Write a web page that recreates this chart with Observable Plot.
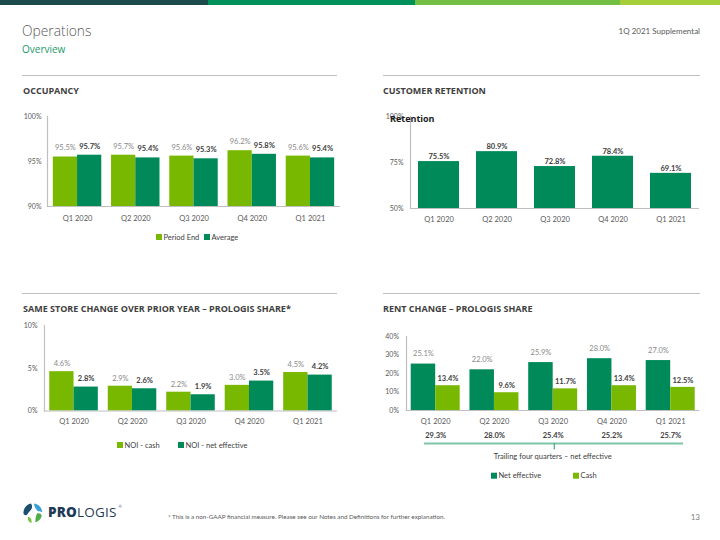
<!DOCTYPE html>
<html>
<head>
<meta charset="utf-8">
<script src="https://cdn.jsdelivr.net/npm/d3@7"></script>
<script src="https://cdn.jsdelivr.net/npm/@observablehq/plot@0.6"></script>
<style>
  body { margin: 0; background: #fff; }
  #page { position: relative; width: 720px; height: 540px; overflow: hidden; background: #fff; }
  #page > svg.chart { position: absolute; }
  #overlay { position: absolute; left: 0; top: 0; pointer-events: none; }
</style>
</head>
<body>
<div id="page"></div>
<script>
// ---- Data ----
const quarters = ["Q1 2020", "Q2 2020", "Q3 2020", "Q4 2020", "Q1 2021"];

const occupancyPeriodEnd = [95.5, 95.7, 95.6, 96.2, 95.6];
const occupancyAverage   = [95.7, 95.4, 95.3, 95.8, 95.4];

const customerRetention  = [75.5, 80.9, 72.8, 78.4, 69.1];

const noiCash            = [4.6, 2.9, 2.2, 3.0, 4.5];
const noiNetEffective    = [2.8, 2.6, 1.9, 3.5, 4.2];

const rentNetEffective   = [25.1, 22.0, 25.9, 28.0, 27.0];
const rentCash           = [13.4, 9.6, 11.7, 13.4, 12.5];
const trailingNetEffective = [29.3, 28.0, 25.4, 25.2, 25.7];

const occupancyTicks = [90, 95, 100];
const retentionTicks = [50, 75, 100];
const sameStoreTicks = [0, 5, 10];
const rentTicks      = [0, 10, 20, 30, 40];

// ---- Palette ----
const lightGreen = "#78b800";
const darkGreen  = "#008a5a";
const greyLabel  = "#8a8a8a";
const darkLabel  = "#404040";
const axisGrey   = "#bfbfbf";
const tickGrey   = "#595959";
const chartFont  = "Lato, 'Open Sans', sans-serif";

const page = document.getElementById("page");

function rows(values) {
  return quarters.map((q, i) => ({quarter: q, value: values[i]}));
}

// Width of one quarter's band for a band scale with the given paddings
function bandWidth(width, ml, mr, n, pInner, pOuter) {
  const step = (width - ml - mr) / (n - pInner + 2 * pOuter);
  return step * (1 - pInner);
}

function barChart(cfg) {
  const [mt, mr, mb, ml] = cfg.margin;
  const y0 = cfg.yDomain[0];
  const bw = bandWidth(cfg.width, ml, mr, quarters.length, cfg.paddingInner, cfg.paddingOuter);
  const k = cfg.series.length;
  const sub = bw / k;
  const marks = [
    Plot.axisY({ticks: cfg.ticks, tickSize: 0, tickPadding: cfg.tickPaddingY, tickFormat: d => d + "%", fontSize: 7}),
    Plot.axisX({tickSize: 0, tickPadding: cfg.tickPaddingX, fontSize: 7.5})
  ];
  cfg.series.forEach((s, j) => {
    const data = rows(s.values);
    marks.push(Plot.barY(data, {
      x: "quarter", y1: () => y0, y2: "value", fill: s.color,
      insetLeft: sub * j, insetRight: sub * (k - 1 - j)
    }));
    marks.push(Plot.text(data, {
      x: "quarter", y: "value", text: d => d.value.toFixed(1) + "%",
      dx: (j + 0.5) * sub - bw / 2, dy: s.dy,
      fill: s.labelColor, fontWeight: s.bold ? 700 : 400, fontSize: 7.5
    }));
  });
  marks.push(Plot.ruleY([y0], {stroke: axisGrey, strokeWidth: 1.2}));
  marks.push(Plot.frame({anchor: "left", stroke: axisGrey, strokeWidth: 1.2}));
  if (cfg.extraMarks) marks.push(...cfg.extraMarks);

  const svg = Plot.plot({
    width: cfg.width, height: cfg.height,
    marginTop: mt, marginRight: mr, marginBottom: mb, marginLeft: ml,
    x: {domain: quarters, paddingInner: cfg.paddingInner, paddingOuter: cfg.paddingOuter, round: false, label: null},
    y: {domain: cfg.yDomain, label: null},
    style: {fontFamily: chartFont, fontSize: "7.5px", color: tickGrey, background: "transparent", overflow: "visible"},
    marks
  });
  svg.classList.add("chart");
  svg.style.left = cfg.left + "px";
  svg.style.top = cfg.top + "px";
  page.appendChild(svg);
}

// Occupancy
barChart({
  left: 0, top: 100, width: 345, height: 125, margin: [16, 5, 19, 47],
  yDomain: [90, 100], ticks: occupancyTicks,
  paddingInner: 0.168, paddingOuter: 0.1, tickPaddingX: 9, tickPaddingY: 6,
  series: [
    {values: occupancyPeriodEnd, color: lightGreen, labelColor: greyLabel, bold: false, dy: -9},
    {values: occupancyAverage, color: darkGreen, labelColor: darkLabel, bold: true, dy: -9}
  ]
});

// Customer retention
barChart({
  left: 370, top: 100, width: 340, height: 125, margin: [16, 11, 17, 40],
  yDomain: [50, 100], ticks: retentionTicks,
  paddingInner: 0.293, paddingOuter: 0.138, tickPaddingX: 8.5, tickPaddingY: 7,
  series: [
    {values: customerRetention, color: darkGreen, labelColor: darkLabel, bold: true, dy: -5}
  ]
});

// Same store change over prior year
barChart({
  left: 0, top: 315, width: 345, height: 110, margin: [10, 8, 14.5, 44],
  yDomain: [0, 10], ticks: sameStoreTicks,
  paddingInner: 0.17, paddingOuter: 0.09, tickPaddingX: 8, tickPaddingY: 7,
  series: [
    {values: noiCash, color: lightGreen, labelColor: greyLabel, bold: false, dy: -8},
    {values: noiNetEffective, color: darkGreen, labelColor: darkLabel, bold: true, dy: -8}
  ]
});

// Rent change, with the trailing four quarters row under the quarter labels
barChart({
  left: 370, top: 325, width: 340, height: 130, margin: [11, 10.6, 45, 36],
  yDomain: [0, 40], ticks: rentTicks,
  paddingInner: 0.166, paddingOuter: 0.08, tickPaddingX: 8, tickPaddingY: 7.5,
  series: [
    {values: rentNetEffective, color: darkGreen, labelColor: greyLabel, bold: false, dy: -10},
    {values: rentCash, color: lightGreen, labelColor: darkLabel, bold: true, dy: -7}
  ],
  extraMarks: [
    Plot.text(rows(trailingNetEffective), {
      x: "quarter", frameAnchor: "bottom", dy: 27,
      text: d => d.value.toFixed(1) + "%", fill: darkLabel, fontWeight: 700, fontSize: 7.5
    })
  ]
});

// ---- Page furniture: header, section titles, legends, footer ----
const overlay = d3.select(page).append("svg")
  .attr("id", "overlay").attr("width", 720).attr("height", 540);

// top colour band
[["#1b4b4b", 0, 208], ["#00905a", 208, 415], ["#72bf44", 415, 620], ["#a6ce39", 620, 720]]
  .forEach(([c, x0, x1]) => overlay.append("rect").attr("x", x0).attr("y", 0).attr("width", x1 - x0).attr("height", 5).attr("fill", c));

function label(x, y, str, o = {}) {
  overlay.append("text")
    .attr("x", x).attr("y", y)
    .attr("text-anchor", o.anchor || "start")
    .attr("font-family", o.family || chartFont)
    .attr("font-size", o.size || 7.5)
    .attr("font-weight", o.weight || 400)
    .attr("fill", o.color || darkLabel)
    .text(str);
}

label(22, 36, "Operations", {family: "'Open Sans'", size: 13.8, weight: 300, color: "#595959"});
label(22, 52.5, "Overview", {family: "'Open Sans'", size: 10, color: "#1a9a6a"});
label(700, 34, "1Q 2021 Supplemental", {anchor: "end", size: 8, color: "#595959"});

// section dividers and titles
[[22, 337], [383, 700]].forEach(([x0, x1]) => {
  [75.5, 293.5].forEach(y => overlay.append("line")
    .attr("x1", x0).attr("x2", x1).attr("y1", y).attr("y2", y)
    .attr("stroke", axisGrey).attr("stroke-width", 1));
});
const sectionStyle = {family: "'Open Sans'", size: 9, weight: 700, color: "#404040"};
label(23, 94, "OCCUPANCY", sectionStyle);
label(383, 94, "CUSTOMER RETENTION", sectionStyle);
label(23, 312, "SAME STORE CHANGE OVER PRIOR YEAR \u2013 PROLOGIS SHARE*", sectionStyle);
label(383, 312, "RENT CHANGE \u2013 PROLOGIS SHARE", sectionStyle);

label(390, 121.5, "Retention", {family: "'Open Sans'", size: 9, weight: 700, color: "#1a1a1a"});

// legends
function legend(items, cy) {
  items.forEach(([x, color, text]) => {
    overlay.append("rect").attr("x", x).attr("y", cy - 3).attr("width", 6).attr("height", 6).attr("fill", color);
    label(x + 7.5, cy + 2.7, text, {color: "#404040"});
  });
}
legend([[156, lightGreen, "Period End"], [204, darkGreen, "Average"]], 237);
legend([[117, lightGreen, "NOI - cash"], [178, darkGreen, "NOI - net effective"]], 445);
legend([[491, darkGreen, "Net effective"], [573, lightGreen, "Cash"]], 475.7);

// trailing four quarters bracket
overlay.append("line").attr("x1", 424).attr("x2", 683).attr("y1", 443.5).attr("y2", 443.5)
  .attr("stroke", "#7cc5a6").attr("stroke-width", 2);
overlay.append("line").attr("x1", 554.3).attr("x2", 554.3).attr("y1", 443).attr("y2", 449.5)
  .attr("stroke", "#4aa982").attr("stroke-width", 1.2);
label(552.7, 458.6, "Trailing four quarters \u2013 net effective", {anchor: "middle", color: "#404040"});

// footer
const logo = overlay.append("g").attr("transform", "translate(22,502)");
logo.append("path").attr("d", "M9 1.5 C4.5 2.5 1 6.5 1.5 11.5 C2.2 13.5 4.5 13.8 5.6 12 C6.8 10 8.6 9 9.8 6.3 C10.4 4.6 10 2.8 9 1.5 Z").attr("fill", "#1d4f6e");
logo.append("path").attr("d", "M12 1.6 C16.4 2 19.8 5.6 20.3 10 C18.6 9.4 16.6 10 15.2 8.4 C13.8 6.8 12.2 5 12 1.6 Z").attr("fill", "#3aa0d8");
logo.append("path").attr("d", "M15.2 11.2 C17.6 11 20 11.6 19.6 14.6 C18.8 17.6 16 19.6 13.4 20.2 C13.2 17.2 13.8 13.8 15.2 11.2 Z").attr("fill", "#4fae4a");
logo.append("path").attr("d", "M6 15 C8.2 14.8 10.2 17 9.4 21 C7.2 20.4 5.2 18.2 6 15 Z").attr("fill", "#7cc242");
const logoText = overlay.append("text").attr("x", 48).attr("y", 516.8)
  .attr("font-family", "'Open Sans'").attr("font-size", 13.5).attr("fill", "#1f3a56").attr("letter-spacing", 0.2);
logoText.append("tspan").attr("font-weight", 800).text("PRO");
logoText.append("tspan").attr("font-weight", 400).text("LOGIS");
label(118.5, 508, "\u00ae", {size: 4, color: "#1f3a56"});

label(168, 519, "* This is a non-GAAP financial measure. Please see our Notes and Definitions for further explanation.", {size: 6.3, color: "#595959"});
label(700, 520, "13", {anchor: "end", size: 8, color: "#808080"});
</script>
</body>
</html>
